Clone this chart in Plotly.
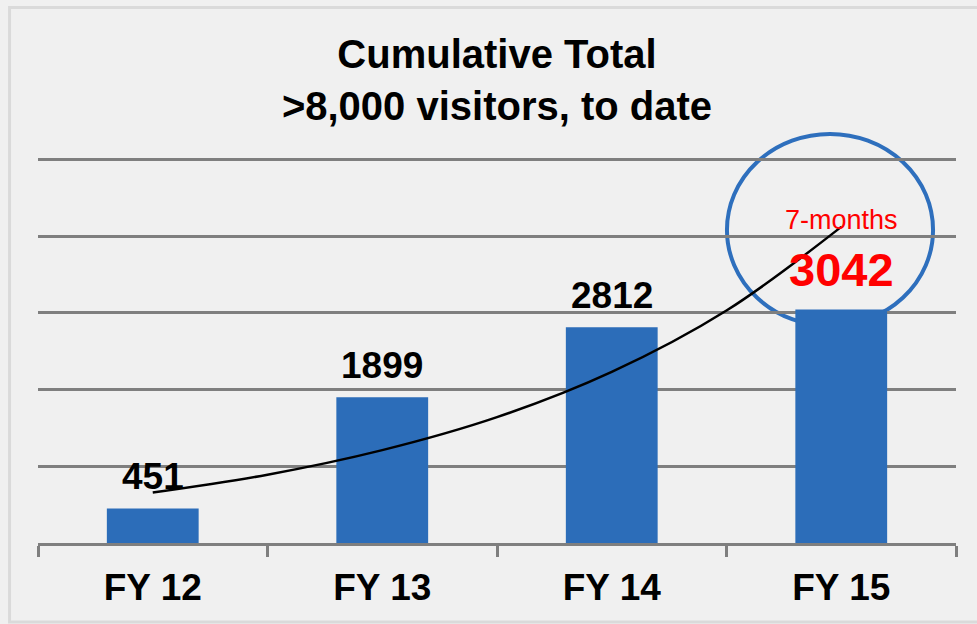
import plotly.graph_objects as go

categories = ["FY 12", "FY 13", "FY 14", "FY 15"]
visitors = [451, 1899, 2812, 3042]
# trendline readings (black curve) at half-category steps
trend_x = [0, 0.5, 1, 1.5, 2, 2.5, 3]
trend_y = [657, 890, 1210, 1640, 2230, 3030, 4120]
note_text = "7-months"
title_text = "Cumulative Total<br>>8,000 visitors, to date"

FONT = "Liberation Sans, Arial, sans-serif"
xpos = list(range(len(categories)))

fig = go.Figure()
fig.add_trace(go.Bar(x=xpos, y=visitors, width=0.4, marker=dict(color="#2c6db9", line=dict(width=0)),
                     hoverinfo="skip"))
fig.add_trace(go.Scatter(x=trend_x, y=trend_y, mode="lines", line=dict(color="black", width=2.5, shape="spline"),
                         hoverinfo="skip"))

# value labels
for i, v in enumerate(visitors[:-1]):
    fig.add_annotation(x=xpos[i], y=v, text=f"<b>{v}</b>", showarrow=False, yanchor="middle", yshift=32,
                       font=dict(family=FONT, size=37, color="black"))
fig.add_annotation(x=xpos[-1], y=visitors[-1], text=f"<b>{visitors[-1]}</b>", showarrow=False, yanchor="middle",
                   yshift=40, font=dict(family=FONT, size=47, color="#ff0000"))
fig.add_annotation(x=xpos[-1], y=visitors[-1], text=note_text, showarrow=False, yanchor="middle",
                   yshift=90, font=dict(family=FONT, size=27, color="#ff0000"))

# highlight circle
fig.add_shape(type="circle", xref="x", yref="y", x0=2.502, x1=3.40, y0=2829, y1=5332,
              line=dict(color="#2e6fbd", width=4), layer="below")
# outer border
fig.add_shape(type="rect", xref="paper", yref="paper", x0=-0.031, x1=1.06, y0=-0.187, y1=1.269,
              line=dict(color="#dadada", width=3))

fig.update_layout(
    width=977, height=624,
    margin=dict(l=38, r=21, t=121, b=81),
    paper_bgcolor="#f0f0f0", plot_bgcolor="#f0f0f0",
    showlegend=False,
    title=dict(text=f"<b>{title_text}</b>", x=0.5, xanchor="center", xref="paper",
               y=1 - 67.5 / 624, yanchor="middle", yref="container",
               font=dict(family=FONT, size=40, color="black")),
    xaxis=dict(range=[-0.5, 3.5], tickvals=xpos, ticktext=[f"<b>{c}</b>" for c in categories],
               ticks="", showgrid=False, zeroline=False, showline=True, linecolor="#7f7f7f", linewidth=2.5,
               tickfont=dict(family=FONT, size=37, color="black"), ticklabelstandoff=10,
               minor=dict(tickvals=[-0.5, 0.5, 1.5, 2.5, 3.5], ticks="outside", ticklen=11, tickwidth=2.5,
                          tickcolor="#7f7f7f", showgrid=False),
               fixedrange=True),
    yaxis=dict(range=[0, 5500], tickvals=[1000, 2000, 3000, 4000, 5000], showticklabels=False,
               showgrid=True, gridcolor="#7f7f7f", gridwidth=2.5, zeroline=False, showline=False, ticks="",
               fixedrange=True),
)

fig.write_html("out.html", config={"displayModeBar": False},
               post_script="document.body.style.margin='0';document.body.style.background='#f3f3f3';")
